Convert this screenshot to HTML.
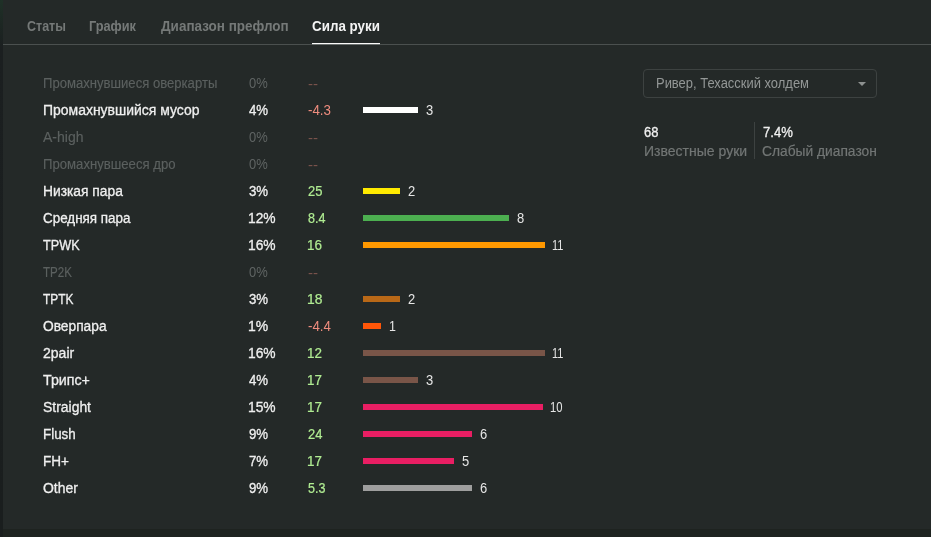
<!DOCTYPE html>
<html lang="ru"><head><meta charset="utf-8"><title>Сила руки</title>
<style>
html,body{margin:0;padding:0;}
body{width:931px;height:537px;overflow:hidden;background:#242928;position:relative;font-family:"Liberation Sans",sans-serif;}
.t{position:absolute;white-space:nowrap;line-height:20px;height:20px;transform-origin:0 0;display:block;}
#txt{position:absolute;left:0;top:0;width:931px;height:537px;will-change:transform;}
.b{position:absolute;}
#edge{position:absolute;left:0;top:0;width:3px;height:537px;background:linear-gradient(#1f3127 0,#1d2723 24px,#1b1f20 48px,#1a1e1e 100%);}
#foot{position:absolute;left:3px;top:529px;width:928px;height:8px;background:#1e2320;}
#rule{position:absolute;left:3px;top:44px;width:928px;height:1px;background:#4b504f;}
#ul{position:absolute;left:312px;top:43px;width:68px;height:1px;background:#fafafa;border-bottom:1px solid #6c7170;}
#sel{position:absolute;left:643px;top:69px;width:232px;height:27px;border:1px solid #3d4241;border-radius:4px;}
#car{position:absolute;left:858px;top:82px;width:0;height:0;border-left:4px solid transparent;border-right:4px solid transparent;border-top:4px solid #8d9190;}
#div{position:absolute;left:754px;top:122px;width:1px;height:37px;background:#3d4241;}
</style></head><body>
<div id="edge"></div><div id="foot"></div><div id="rule"></div><div id="ul"></div>
<div id="sel"></div><div id="car"></div><div id="div"></div>
<div class="b" style="left:363px;top:107px;width:55px;height:6px;background:#ffffff"></div>
<div class="b" style="left:363px;top:188px;width:37px;height:6px;background:#ffea00"></div>
<div class="b" style="left:363px;top:215px;width:146px;height:6px;background:#4caf50"></div>
<div class="b" style="left:363px;top:242px;width:182px;height:6px;background:#ff9800"></div>
<div class="b" style="left:363px;top:296px;width:37px;height:6px;background:#b96817"></div>
<div class="b" style="left:363px;top:323px;width:18px;height:6px;background:#ff5608"></div>
<div class="b" style="left:363px;top:350px;width:182px;height:6px;background:#795548"></div>
<div class="b" style="left:363px;top:377px;width:55px;height:6px;background:#795548"></div>
<div class="b" style="left:363px;top:404px;width:180px;height:6px;background:#e91e63"></div>
<div class="b" style="left:363px;top:431px;width:109px;height:6px;background:#e91e63"></div>
<div class="b" style="left:363px;top:458px;width:91px;height:6px;background:#e91e63"></div>
<div class="b" style="left:363px;top:485px;width:109px;height:6px;background:#9e9e9e"></div>
<div id="txt">
<span class="t" style="left:27.10px;top:16.00px;color:#757978;font-weight:700;font-size:14px;transform:scaleX(0.8918)">Статы</span>
<span class="t" style="left:89.00px;top:16.00px;color:#757978;font-weight:700;font-size:14px;transform:scaleX(0.9107)">График</span>
<span class="t" style="left:160.70px;top:16.00px;color:#757978;font-weight:700;font-size:14px;transform:scaleX(0.9626)">Диапазон префлоп</span>
<span class="t" style="left:312.10px;top:16.00px;color:#f4f4f4;font-weight:700;font-size:14px;transform:scaleX(0.9553)">Сила руки</span>
<span class="t" style="left:42.56px;top:73.00px;color:#5b605f;font-weight:400;font-size:14px;transform:scaleX(0.9354);-webkit-text-stroke:0.15px #5b605f">Промахнувшиеся оверкарты</span>
<span class="t" style="left:248.70px;top:73.00px;color:#5f6463;font-weight:400;font-size:14px;transform:scaleX(0.9249)">0%</span>
<span class="t" style="left:307.80px;top:73.80px;color:#78524b;font-weight:400;font-size:14px;transform:scaleX(1.0764)">--</span>
<span class="t" style="left:42.90px;top:100.00px;color:#efefef;font-weight:400;font-size:14px;transform:scaleX(0.9973);-webkit-text-stroke:0.3px #efefef">Промахнувшийся мусор</span>
<span class="t" style="left:248.70px;top:100.00px;color:#efefef;font-weight:400;font-size:14px;transform:scaleX(0.9451);-webkit-text-stroke:0.3px #efefef">4%</span>
<span class="t" style="left:307.80px;top:100.00px;color:#ee8c7e;font-weight:400;font-size:14px;transform:scaleX(0.9532)">-4.3</span>
<span class="t" style="left:425.70px;top:100.00px;color:#e6e6e6;font-weight:400;font-size:14px;transform:scaleX(0.9250)">3</span>
<span class="t" style="left:43.00px;top:127.00px;color:#5b605f;font-weight:400;font-size:14px;transform:scaleX(1.0004);-webkit-text-stroke:0.15px #5b605f">A-high</span>
<span class="t" style="left:248.70px;top:127.00px;color:#5f6463;font-weight:400;font-size:14px;transform:scaleX(0.9249)">0%</span>
<span class="t" style="left:307.80px;top:127.80px;color:#78524b;font-weight:400;font-size:14px;transform:scaleX(1.0764)">--</span>
<span class="t" style="left:42.56px;top:154.00px;color:#5b605f;font-weight:400;font-size:14px;transform:scaleX(0.9385);-webkit-text-stroke:0.15px #5b605f">Промахнувшееся дро</span>
<span class="t" style="left:248.70px;top:154.00px;color:#5f6463;font-weight:400;font-size:14px;transform:scaleX(0.9249)">0%</span>
<span class="t" style="left:307.80px;top:154.80px;color:#78524b;font-weight:400;font-size:14px;transform:scaleX(1.0764)">--</span>
<span class="t" style="left:42.91px;top:181.00px;color:#efefef;font-weight:400;font-size:14px;transform:scaleX(0.9864);-webkit-text-stroke:0.3px #efefef">Низкая пара</span>
<span class="t" style="left:248.70px;top:181.00px;color:#efefef;font-weight:400;font-size:14px;transform:scaleX(0.9451);-webkit-text-stroke:0.3px #efefef">3%</span>
<span class="t" style="left:307.80px;top:181.00px;color:#b0ec92;font-weight:400;font-size:14px;transform:scaleX(0.9249);-webkit-text-stroke:0.2px #b0ec92">25</span>
<span class="t" style="left:407.70px;top:181.00px;color:#e6e6e6;font-weight:400;font-size:14px;transform:scaleX(0.9250)">2</span>
<span class="t" style="left:43.40px;top:208.00px;color:#efefef;font-weight:400;font-size:14px;transform:scaleX(0.9587);-webkit-text-stroke:0.3px #efefef">Средняя пара</span>
<span class="t" style="left:248.21px;top:208.00px;color:#efefef;font-weight:400;font-size:14px;transform:scaleX(0.9860);-webkit-text-stroke:0.3px #efefef">12%</span>
<span class="t" style="left:307.80px;top:208.00px;color:#b0ec92;font-weight:400;font-size:14px;transform:scaleX(0.8945);-webkit-text-stroke:0.2px #b0ec92">8.4</span>
<span class="t" style="left:516.70px;top:208.00px;color:#e6e6e6;font-weight:400;font-size:14px;transform:scaleX(0.9250)">8</span>
<span class="t" style="left:43.00px;top:235.00px;color:#efefef;font-weight:400;font-size:14px;transform:scaleX(0.9050);-webkit-text-stroke:0.3px #efefef">TPWK</span>
<span class="t" style="left:248.21px;top:235.00px;color:#efefef;font-weight:400;font-size:14px;transform:scaleX(0.9860);-webkit-text-stroke:0.3px #efefef">16%</span>
<span class="t" style="left:306.84px;top:235.00px;color:#b0ec92;font-weight:400;font-size:14px;transform:scaleX(0.9604);-webkit-text-stroke:0.2px #b0ec92">16</span>
<span class="t" style="left:552.41px;top:235.00px;color:#e6e6e6;font-weight:400;font-size:14px;transform:scaleX(0.7856)">11</span>
<span class="t" style="left:43.00px;top:262.00px;color:#5b605f;font-weight:400;font-size:14px;transform:scaleX(0.8269);-webkit-text-stroke:0.15px #5b605f">TP2K</span>
<span class="t" style="left:248.70px;top:262.00px;color:#5f6463;font-weight:400;font-size:14px;transform:scaleX(0.9249)">0%</span>
<span class="t" style="left:307.80px;top:262.80px;color:#78524b;font-weight:400;font-size:14px;transform:scaleX(1.0764)">--</span>
<span class="t" style="left:43.00px;top:289.00px;color:#efefef;font-weight:400;font-size:14px;transform:scaleX(0.8507);-webkit-text-stroke:0.3px #efefef">TPTK</span>
<span class="t" style="left:248.70px;top:289.00px;color:#efefef;font-weight:400;font-size:14px;transform:scaleX(0.9451);-webkit-text-stroke:0.3px #efefef">3%</span>
<span class="t" style="left:306.81px;top:289.00px;color:#b0ec92;font-weight:400;font-size:14px;transform:scaleX(0.9874);-webkit-text-stroke:0.2px #b0ec92">18</span>
<span class="t" style="left:407.70px;top:289.00px;color:#e6e6e6;font-weight:400;font-size:14px;transform:scaleX(0.9250)">2</span>
<span class="t" style="left:43.40px;top:316.00px;color:#efefef;font-weight:400;font-size:14px;transform:scaleX(0.9831);-webkit-text-stroke:0.3px #efefef">Оверпара</span>
<span class="t" style="left:247.70px;top:316.00px;color:#efefef;font-weight:400;font-size:14px;transform:scaleX(0.9954);-webkit-text-stroke:0.3px #efefef">1%</span>
<span class="t" style="left:307.80px;top:316.00px;color:#ee8c7e;font-weight:400;font-size:14px;transform:scaleX(0.9532)">-4.4</span>
<span class="t" style="left:388.61px;top:316.00px;color:#e6e6e6;font-weight:400;font-size:14px;transform:scaleX(0.8857)">1</span>
<span class="t" style="left:43.40px;top:343.00px;color:#efefef;font-weight:400;font-size:14px;transform:scaleX(1.0010);-webkit-text-stroke:0.3px #efefef">2pair</span>
<span class="t" style="left:248.21px;top:343.00px;color:#efefef;font-weight:400;font-size:14px;transform:scaleX(0.9860);-webkit-text-stroke:0.3px #efefef">16%</span>
<span class="t" style="left:306.84px;top:343.00px;color:#b0ec92;font-weight:400;font-size:14px;transform:scaleX(0.9604);-webkit-text-stroke:0.2px #b0ec92">12</span>
<span class="t" style="left:552.41px;top:343.00px;color:#e6e6e6;font-weight:400;font-size:14px;transform:scaleX(0.7856)">11</span>
<span class="t" style="left:43.40px;top:370.00px;color:#efefef;font-weight:400;font-size:14px;transform:scaleX(1.0163);-webkit-text-stroke:0.3px #efefef">Трипс+</span>
<span class="t" style="left:248.70px;top:370.00px;color:#efefef;font-weight:400;font-size:14px;transform:scaleX(0.9451);-webkit-text-stroke:0.3px #efefef">4%</span>
<span class="t" style="left:306.84px;top:370.00px;color:#b0ec92;font-weight:400;font-size:14px;transform:scaleX(0.9604);-webkit-text-stroke:0.2px #b0ec92">17</span>
<span class="t" style="left:425.70px;top:370.00px;color:#e6e6e6;font-weight:400;font-size:14px;transform:scaleX(0.9250)">3</span>
<span class="t" style="left:43.40px;top:397.00px;color:#efefef;font-weight:400;font-size:14px;transform:scaleX(0.9947);-webkit-text-stroke:0.3px #efefef">Straight</span>
<span class="t" style="left:248.21px;top:397.00px;color:#efefef;font-weight:400;font-size:14px;transform:scaleX(0.9860);-webkit-text-stroke:0.3px #efefef">15%</span>
<span class="t" style="left:306.84px;top:397.00px;color:#b0ec92;font-weight:400;font-size:14px;transform:scaleX(0.9604);-webkit-text-stroke:0.2px #b0ec92">17</span>
<span class="t" style="left:549.90px;top:397.00px;color:#e6e6e6;font-weight:400;font-size:14px;transform:scaleX(0.8048)">10</span>
<span class="t" style="left:42.94px;top:424.00px;color:#efefef;font-weight:400;font-size:14px;transform:scaleX(0.9554);-webkit-text-stroke:0.3px #efefef">Flush</span>
<span class="t" style="left:248.70px;top:424.00px;color:#efefef;font-weight:400;font-size:14px;transform:scaleX(0.9451);-webkit-text-stroke:0.3px #efefef">9%</span>
<span class="t" style="left:307.80px;top:424.00px;color:#b0ec92;font-weight:400;font-size:14px;transform:scaleX(0.9249);-webkit-text-stroke:0.2px #b0ec92">24</span>
<span class="t" style="left:479.70px;top:424.00px;color:#e6e6e6;font-weight:400;font-size:14px;transform:scaleX(0.9250)">6</span>
<span class="t" style="left:42.93px;top:451.00px;color:#efefef;font-weight:400;font-size:14px;transform:scaleX(0.9664);-webkit-text-stroke:0.3px #efefef">FH+</span>
<span class="t" style="left:248.70px;top:451.00px;color:#efefef;font-weight:400;font-size:14px;transform:scaleX(0.9451);-webkit-text-stroke:0.3px #efefef">7%</span>
<span class="t" style="left:306.84px;top:451.00px;color:#b0ec92;font-weight:400;font-size:14px;transform:scaleX(0.9604);-webkit-text-stroke:0.2px #b0ec92">17</span>
<span class="t" style="left:461.70px;top:451.00px;color:#e6e6e6;font-weight:400;font-size:14px;transform:scaleX(0.9250)">5</span>
<span class="t" style="left:43.40px;top:478.00px;color:#efefef;font-weight:400;font-size:14px;transform:scaleX(0.9985);-webkit-text-stroke:0.3px #efefef">Other</span>
<span class="t" style="left:248.70px;top:478.00px;color:#efefef;font-weight:400;font-size:14px;transform:scaleX(0.9451);-webkit-text-stroke:0.3px #efefef">9%</span>
<span class="t" style="left:307.80px;top:478.00px;color:#b0ec92;font-weight:400;font-size:14px;transform:scaleX(0.8945);-webkit-text-stroke:0.2px #b0ec92">5.3</span>
<span class="t" style="left:479.70px;top:478.00px;color:#e6e6e6;font-weight:400;font-size:14px;transform:scaleX(0.9250)">6</span>
<span class="t" style="left:655.57px;top:73.00px;color:#939796;font-weight:400;font-size:14px;transform:scaleX(0.9251)">Ривер, Техасский холдем</span>
<span class="t" style="left:643.90px;top:122.00px;color:#f0f0f0;font-weight:400;font-size:14px;transform:scaleX(0.9249);-webkit-text-stroke:0.3px #f0f0f0">68</span>
<span class="t" style="left:643.50px;top:141.00px;color:#727675;font-weight:400;font-size:14px;transform:scaleX(1.0012);-webkit-text-stroke:0.2px #727675">Известные руки</span>
<span class="t" style="left:762.80px;top:122.00px;color:#f0f0f0;font-weight:400;font-size:14px;transform:scaleX(0.9345);-webkit-text-stroke:0.3px #f0f0f0">7.4%</span>
<span class="t" style="left:762.40px;top:141.00px;color:#727675;font-weight:400;font-size:14px;transform:scaleX(0.9846);-webkit-text-stroke:0.2px #727675">Слабый диапазон</span>
</div>
</body></html>
